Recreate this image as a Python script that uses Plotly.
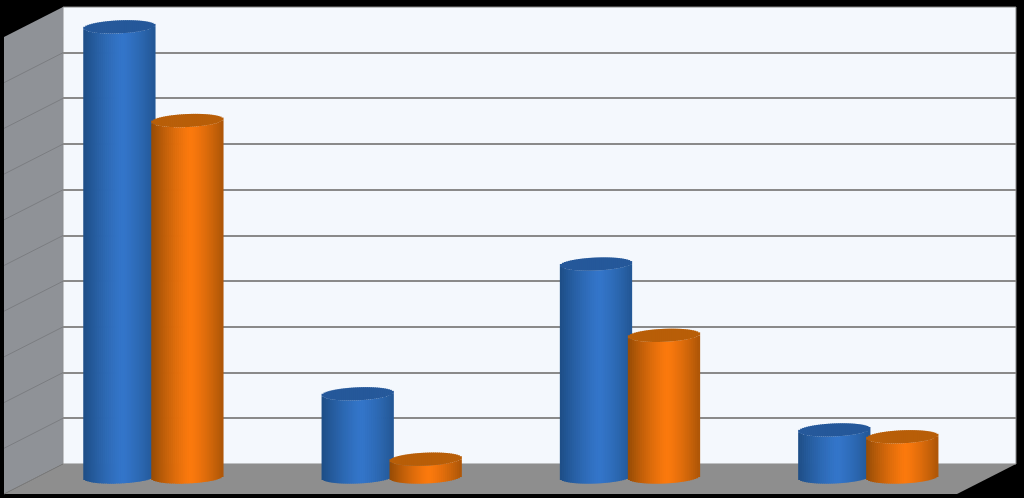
import numpy as np
import plotly.graph_objects as go

categories = [0, 1, 2, 3]
blue_values = [9.85, 1.82, 4.66, 1.03]
orange_values = [7.8, 0.39, 3.1, 0.88]
wall_ticks = [0, 1, 2, 3, 4, 5, 6, 7, 8, 9, 10]

W, H = 1024, 498
# back wall corners, and how far the side wall / floor come towards the viewer
wall_l, wall_r, wall_t, wall_b = 63, 1016, 7, 464
depth_x, depth_y = 59, 30

# bars live on their own full page axes
px_per_cat = 238.3
px_per_val = 45.7
cat0_px, val0_px = 153, 477
bar_w = 71.5 / px_per_cat
bar_off = 34 / px_per_cat
cap_h = 6.5 / px_per_val
tilt = 1.5 / px_per_val
n_strips = 36


def px(x):
    return x / W


def py(y):
    return 1 - y / H


def path(points):
    pts = ["%.4f %.4f" % (px(x), py(y)) for x, y in points]
    return "M " + " L ".join(pts) + " Z"


def mix(c1, c2, a):
    return "rgb(%d,%d,%d)" % tuple(c1[i] + (c2[i] - c1[i]) * a for i in range(3))


def cylinder(fig, values, offset, edge, mid, cap):
    step = bar_w / n_strips
    for i in range(n_strips):
        t = -1 + (2 * i + 1) / n_strips
        sag = cap_h * np.sqrt(1 - t * t)
        lean = tilt * t
        shade = 1 - min(abs(t - 0.1) / 1.1, 1) ** 1.3
        x0 = [c + offset - bar_w / 2 + i * step for c in categories]
        # body, curved along the bottom
        fig.add_trace(go.Bar(
            x=x0, y=list(values), base=-sag + lean, width=step * 1.4, offset=0,
            marker=dict(color=mix(edge, mid, shade), line_width=0),
            xaxis="x2", yaxis="y2", hoverinfo="skip", showlegend=False,
        ))
        # the lid
        fig.add_trace(go.Bar(
            x=x0, y=[2 * sag] * len(values), base=[v - sag + lean for v in values],
            width=step * 1.4, offset=0,
            marker=dict(color=cap, line_width=0),
            xaxis="x2", yaxis="y2", hoverinfo="skip", showlegend=False,
        ))


fig = go.Figure()

# empty trace so the wall axes show up
fig.add_trace(go.Scatter(x=[0, 1], y=[0, 10], mode="none", hoverinfo="skip", showlegend=False))

cylinder(fig, blue_values, -bar_off, (30, 78, 134), (52, 118, 202), "#25589A")
cylinder(fig, orange_values, bar_off, (150, 76, 6), (252, 122, 14), "#B85E08")

shapes = [
    # back wall
    dict(type="path", path=path([(wall_l, wall_t), (wall_r, wall_t), (wall_r, wall_b), (wall_l, wall_b)]),
         xref="paper", yref="paper", fillcolor="#F4F8FD", line=dict(color="#8a8a8a", width=1), layer="below"),
    # left wall
    dict(type="path", path=path([(wall_l, wall_t), (wall_l, wall_b), (wall_l - depth_x, wall_b + depth_y),
                                 (wall_l - depth_x, wall_t + depth_y)]),
         xref="paper", yref="paper", fillcolor="#8F9297", line_width=0, layer="below"),
    # floor
    dict(type="path", path=path([(wall_l, wall_b), (wall_r, wall_b), (wall_r - depth_x, wall_b + depth_y),
                                 (wall_l - depth_x, wall_b + depth_y)]),
         xref="paper", yref="paper", fillcolor="#8E8E8E", line_width=0, layer="below"),
]
for k in wall_ticks[1:-1]:
    y = wall_b - (wall_b - wall_t) * k / wall_ticks[-1]
    shapes.append(dict(type="line", x0=px(wall_l), y0=py(y), x1=px(wall_l - depth_x), y1=py(y + depth_y),
                       xref="paper", yref="paper", line=dict(color="#7b7d81", width=1), layer="below"))
shapes.append(dict(type="line", x0=px(wall_l), y0=py(wall_b), x1=px(wall_l - depth_x), y1=py(wall_b + depth_y),
                   xref="paper", yref="paper", line=dict(color="#7c7c7c", width=1), layer="below"))

fig.update_layout(
    width=W,
    height=H,
    margin=dict(l=0, r=0, t=0, b=0),
    paper_bgcolor="black",
    plot_bgcolor="rgba(0,0,0,0)",
    barmode="overlay",
    shapes=shapes,
    xaxis=dict(domain=[px(wall_l), px(wall_r)], range=[0, 1], visible=False),
    yaxis=dict(domain=[py(wall_b), py(wall_t)], range=[wall_ticks[0], wall_ticks[-1]],
               tickvals=wall_ticks, showticklabels=False, ticks="", showgrid=True,
               gridcolor="#8a8a8a", gridwidth=2, zeroline=False, showline=False),
    xaxis2=dict(domain=[0, 1], anchor="y2", visible=False, showgrid=False,
                range=[-cat0_px / px_per_cat, (W - cat0_px) / px_per_cat]),
    yaxis2=dict(domain=[0, 1], anchor="x2", visible=False, showgrid=False,
                range=[(val0_px - H) / px_per_val, val0_px / px_per_val]),
)

fig.write_html(
    "out.html",
    config=dict(displayModeBar=False),
    post_script="document.body.style.margin='0';document.body.style.background='black';",
)
